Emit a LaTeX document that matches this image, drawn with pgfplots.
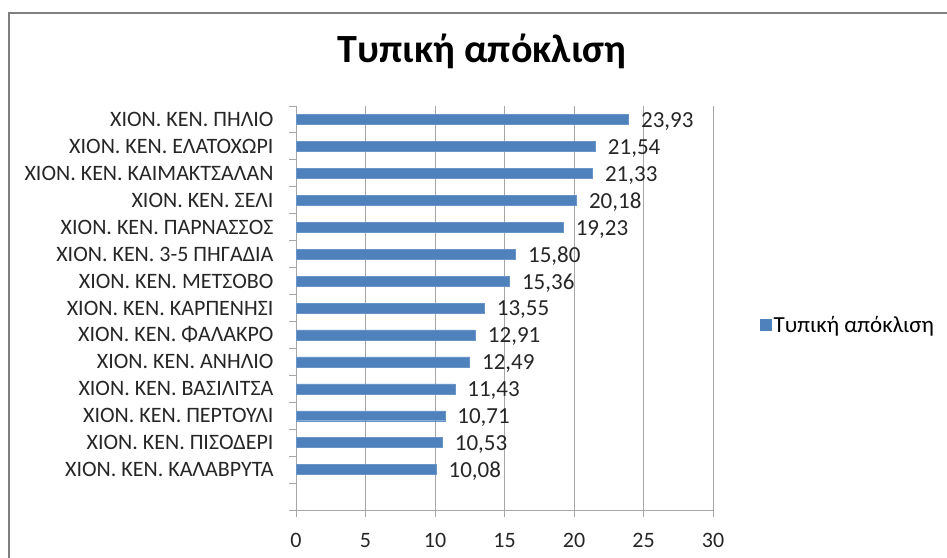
\documentclass[border=0pt]{standalone}
\usepackage{fontspec}
\setmainfont{Carlito}
\usepackage{pgfplots}
\pgfplotsset{compat=1.18}
\definecolor{barblue}{HTML}{4F81BD}
\definecolor{gridgray}{HTML}{A6A6A6}
\definecolor{framegray}{HTML}{808080}
\begin{document}
\begin{tikzpicture}[x=1pt,y=1pt]
\path[use as bounding box] (0,0) rectangle (947,557);
\draw[framegray, line width=2.5pt] (9,-10) -- (9,544) -- (960,544);
\node[font=\fontsize{40}{48}\selectfont\bfseries, anchor=base] at (482,494) {Τυπική απόκλιση};
\begin{axis}[
  at={(296pt,47pt)}, anchor=south west,
  scale only axis, width=417pt, height=404pt,
  xbar, bar width=0.37,
  xmin=0, xmax=30, ymin=0, ymax=15,
  xtick={0,5,...,30},
  ytick={0,...,15},
  y tick label as interval,
  yticklabels={{},ΧΙΟΝ. ΚΕΝ. ΚΑΛΑΒΡΥΤΑ,ΧΙΟΝ. ΚΕΝ. ΠΙΣΟΔΕΡΙ,ΧΙΟΝ. ΚΕΝ. ΠΕΡΤΟΥΛΙ,ΧΙΟΝ. ΚΕΝ. ΒΑΣΙΛΙΤΣΑ,ΧΙΟΝ. ΚΕΝ. ΑΝΗΛΙΟ,ΧΙΟΝ. ΚΕΝ. ΦΑΛΑΚΡΟ,ΧΙΟΝ. ΚΕΝ. ΚΑΡΠΕΝΗΣΙ,ΧΙΟΝ. ΚΕΝ. ΜΕΤΣΟΒΟ,ΧΙΟΝ. ΚΕΝ. 3-5 ΠΗΓΑΔΙΑ,ΧΙΟΝ. ΚΕΝ. ΠΑΡΝΑΣΣΟΣ,ΧΙΟΝ. ΚΕΝ. ΣΕΛΙ,ΧΙΟΝ. ΚΕΝ. ΚΑΙΜΑΚΤΣΑΛΑΝ,ΧΙΟΝ. ΚΕΝ. ΕΛΑΤΟΧΩΡΙ,ΧΙΟΝ. ΚΕΝ. ΠΗΛΙΟ},
  axis lines=left,
  axis line style={-, gridgray, line width=0.9pt},
  tick align=outside,
  major tick length=7pt,
  tick style={gridgray, line width=0.9pt},
  xmajorgrids,
  grid style={gridgray, line width=0.9pt},
  /pgf/number format/assume math mode=true,
  xticklabel style={font=\fontsize{22}{24}\selectfont, text=black!85, yshift=-13pt},
  yticklabel style={font=\fontsize{22}{24}\selectfont, text=black!85, xshift=-12pt},
  legend style={at={(1.113,0.458)}, anchor=west, draw=none, fill=none,
    font=\fontsize{23}{25}\selectfont, inner sep=0pt},
  legend image code/.code={\fill[barblue] (0pt,-5.5pt) rectangle (11pt,5.5pt);},
]
\addplot[fill=barblue, draw=barblue!85!white, point meta=x,
  nodes near coords={\pgfmathprintnumber[fixed, fixed zerofill, precision=2, use comma, assume math mode=true]{\pgfplotspointmeta}},
  nodes near coords align=horizontal,
  every node near coord/.append style={font=\fontsize{23}{25}\selectfont, text=black!85, xshift=9pt, yshift=-2pt}]
  coordinates {
  (10.08,1.5) (10.53,2.5) (10.71,3.5) (11.43,4.5) (12.49,5.5) (12.91,6.5) (13.55,7.5)
  (15.36,8.5) (15.80,9.5) (19.23,10.5) (20.18,11.5) (21.33,12.5) (21.54,13.5) (23.93,14.5)
  };
\addlegendentry{Τυπική απόκλιση}
\end{axis}
\end{tikzpicture}
\end{document}
